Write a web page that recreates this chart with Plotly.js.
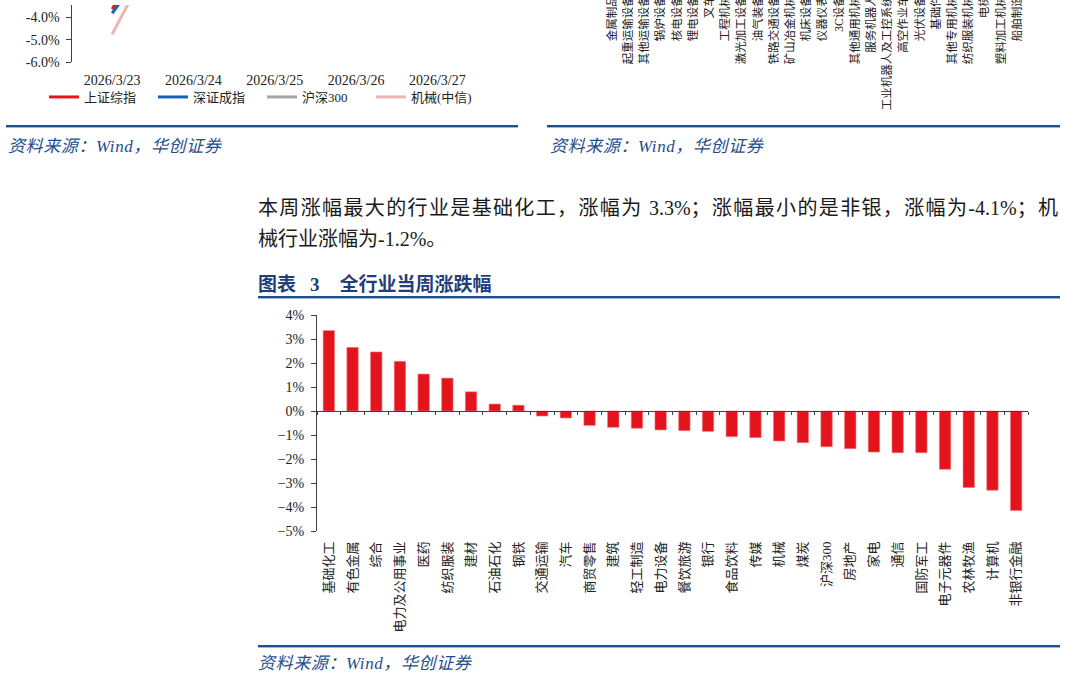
<!DOCTYPE html>
<html>
<head>
<meta charset="utf-8">
<script src="https://cdn.plot.ly/plotly-3.0.1.min.js"></script>
<style>
  html, body { margin:0; padding:0; background:#fff; }
  #page { position:relative; width:1066px; height:677px; overflow:hidden; background:#fff; }
  #chart { position:absolute; left:0; top:0; width:1066px; height:677px; }
  .rule { position:absolute; height:2px; background:#1F4E8C; box-shadow:0 1px 0 #9fb6d6; }
  .src { position:absolute; font-family:"Liberation Serif","Noto Sans CJK SC",serif; font-style:italic;
         font-size:17px; line-height:20px; color:#1F4E8C; white-space:nowrap; letter-spacing:0.6px; }
  .para { position:absolute; left:258px; width:800px; font-family:"Liberation Serif","Noto Sans CJK SC",serif;
          font-size:20px; line-height:30px; color:#1a1a1a; white-space:nowrap; }
  .title { position:absolute; left:258px; top:272px; font-family:"Liberation Serif","Noto Sans CJK SC",serif;
           font-size:19px; line-height:26px; font-weight:bold; color:#1F3F7A; white-space:nowrap; }
</style>
</head>
<body>
<div id="page">
  <div id="chart"></div>
  <div class="rule" style="left:6px; width:512px; top:125px;"></div>
  <div class="rule" style="left:547px; width:513px; top:125px;"></div>
  <div class="src" style="left:8px; top:137px;">资料来源：Wind，华创证券</div>
  <div class="src" style="left:550px; top:137px;">资料来源：Wind，华创证券</div>
  <div class="para" style="top:193px; text-align:justify; text-align-last:justify;">本周涨幅最大的行业是基础化工，涨幅为 3.3%；涨幅最小的是非银，涨幅为-4.1%；机</div>
  <div class="para" style="top:224px;">械行业涨幅为-1.2%。</div>
  <div class="title">图表<span style="margin-left:14px;">3</span><span style="margin-left:20px;">全行业当周涨跌幅</span></div>
  <div class="rule" style="left:258px; width:802px; top:296px;"></div>
  <div class="rule" style="left:258px; width:802px; top:645px;"></div>
  <div class="src" style="left:258px; top:654px;">资料来源：Wind，华创证券</div>
</div>
<script>
// ---- Top-left line chart (daily change, %) ----
const lineDates = ['2026/3/23','2026/3/24','2026/3/25','2026/3/26','2026/3/27'];
const shComposite = [-3.63, 1.78, 1.30, -0.22, 0.63];
const szComponent = [-3.82, 1.20, 1.95, -0.45, 0.85];
const csi300 = [-3.40, 1.45, 1.25, -0.30, 0.55];
const machinery = [-4.76, 2.14, 2.30, -0.60, 0.95];
const lineNames = ['上证综指','深证成指','沪深300','机械(中信)'];
const lineTickVals = [-6, -5, -4];
const lineTickText = ['-6.0%', '-5.0%', '-4.0%'];

// ---- Top-right sub-industry labels (bars above the visible area) ----
const subIndustries = ['金属制品','起重运输设备','其他运输设备','锅炉设备','核电设备','锂电设备','叉车','工程机械',
  '激光加工设备','油气装备','铁路交通设备','矿山冶金机械','机床设备','仪器仪表','3C设备','其他通用机械',
  '服务机器人','工业机器人及工控系统','高空作业车','光伏设备','基础件','其他专用机械','纺织服装机械','电梯',
  '塑料加工机械','船舶制造'];

// ---- Main chart: weekly change by industry (%) ----
const industries = ['基础化工','有色金属','综合','电力及公用事业','医药','纺织服装','建材','石油石化','钢铁','交通运输',
  '汽车','商贸零售','建筑','轻工制造','电力设备','餐饮旅游','银行','食品饮料','传媒','机械',
  '煤炭','沪深300','房地产','家电','通信','国防军工','电子元器件','农林牧渔','计算机','非银行金融'];
const weeklyChange = [3.35, 2.65, 2.46, 2.07, 1.54, 1.37, 0.80, 0.29, 0.24, -0.21,
  -0.29, -0.60, -0.68, -0.72, -0.79, -0.82, -0.85, -1.07, -1.11, -1.25,
  -1.32, -1.49, -1.57, -1.71, -1.74, -1.74, -2.43, -3.19, -3.30, -4.15];

const W = 1066, H = 677;
const px = v => v / W;
const py = v => 1 - v / H;
const serif = 'Liberation Serif, Noto Sans CJK SC, serif';

const lineColors = ['#E8141C', '#1462BE', '#A6A6A6', '#EDB5B5'];
const lineSeries = [shComposite, szComponent, csi300, machinery];
const traces = [];
[3, 2, 1, 0].forEach(i => {
  traces.push({
    type: 'scatter', mode: 'lines', x: lineDates, y: lineSeries[i], name: lineNames[i],
    xaxis: 'x', yaxis: 'y', line: {color: lineColors[i], width: 3}, legendrank: i + 1,
    hoverinfo: 'skip'
  });
});
traces.push({
  type: 'bar', x: industries, y: weeklyChange, xaxis: 'x2', yaxis: 'y2',
  marker: {color: '#E3141C', line: {color: '#F07A7E', width: 0.6}}, showlegend: false, hoverinfo: 'skip'
});
traces.push({
  type: 'bar', x: subIndustries, y: subIndustries.map(() => null), xaxis: 'x4', yaxis: 'y4',
  showlegend: false, hoverinfo: 'skip', marker: {color: '#E3141C'}
});

const mainTop = 315, mainBottom = 531, yMin = -5, yMax = 4;
const zeroPx = mainTop + (mainBottom - mainTop) * (yMax - 0) / (yMax - yMin);

const layout = {
  width: W, height: H, margin: {l: 0, r: 0, t: 0, b: 0},
  paper_bgcolor: 'rgba(0,0,0,0)', plot_bgcolor: 'rgba(0,0,0,0)',
  font: {family: serif, color: '#222'},
  showlegend: true,
  bargap: 0.52,
  legend: {
    orientation: 'h', x: px(44), y: py(97), xanchor: 'left', yanchor: 'middle',
    entrywidth: 64, entrywidthmode: 'pixels', font: {family: serif, size: 13, color: '#222'},
    bgcolor: 'rgba(0,0,0,0)', borderwidth: 0, traceorder: 'normal'
  },
  xaxis: {
    domain: [px(71.5), px(478)], anchor: 'y', type: 'category', range: [-0.5, 4.5],
    showline: false, ticks: '', showgrid: false, zeroline: false,
    tickfont: {family: serif, size: 14, color: '#222'}, ticklabelstandoff: 8
  },
  yaxis: {
    domain: [py(62.3), py(5)], anchor: 'x', range: [-6, -4 + 12.3 / 22.5],
    tickmode: 'array', tickvals: lineTickVals, ticktext: lineTickText,
    showline: true, linecolor: '#404040', linewidth: 1, ticks: 'outside', ticklen: 5, tickcolor: '#404040',
    showgrid: false, zeroline: false, tickfont: {family: serif, size: 14, color: '#222'}, ticklabelstandoff: 3
  },
  xaxis2: {
    domain: [px(317), px(1028)], anchor: 'free', position: py(zeroPx), type: 'category',
    range: [-0.5, industries.length - 0.5], dtick: 1, tick0: 0,
    showline: true, linecolor: '#404040', linewidth: 1.2,
    ticks: 'outside', ticklen: 3, tickcolor: '#404040', tickson: 'boundaries',
    tickangle: -90, ticklabelstandoff: 124, showgrid: false, zeroline: false,
    tickfont: {family: serif, size: 13, color: '#222'}
  },
  yaxis2: {
    domain: [py(mainBottom), py(mainTop)], anchor: 'x2', range: [yMin, yMax], dtick: 1, tick0: 0,
    ticksuffix: '%', showline: true, linecolor: '#404040', linewidth: 1,
    ticks: 'outside', ticklen: 5, tickcolor: '#404040', showgrid: false, zeroline: false,
    tickfont: {family: serif, size: 14, color: '#222'}, ticklabelstandoff: 4
  },
  xaxis4: {
    domain: [px(603.9), px(1025.1)], anchor: 'y4', type: 'category',
    range: [-0.5, subIndustries.length - 0.5], dtick: 1, tick0: 0,
    showline: false, ticks: '', showgrid: false, zeroline: false, tickangle: -90,
    ticklabelstandoff: -9, tickfont: {family: serif, size: 11.5, color: '#222'}
  },
  yaxis4: {
    domain: [py(1), 1], anchor: 'x4', range: [0, 1], visible: false
  }
};

Plotly.newPlot('chart', traces, layout, {staticPlot: true, displayModeBar: false});
</script>
</body>
</html>
